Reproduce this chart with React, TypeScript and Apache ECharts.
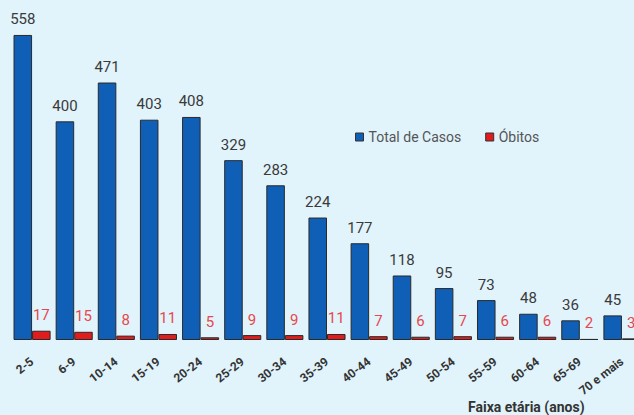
import React, { useEffect, useRef } from "react";
import * as echarts from "echarts";

const categories = ["2-5", "6-9", "10-14", "15-19", "20-24", "25-29", "30-34", "35-39", "40-44", "45-49", "50-54", "55-59", "60-64", "65-69", "70 e mais"];
const totalCasos = [558, 400, 471, 403, 408, 329, 283, 224, 177, 118, 95, 73, 48, 36, 45];
const obitos = [17, 15, 8, 11, 5, 9, 9, 11, 7, 6, 7, 6, 6, 2, 3];

export default function App() {
  const ref = useRef<HTMLDivElement>(null);
  useEffect(() => {
    if (!ref.current) return;
    const chart = echarts.init(ref.current, null, { renderer: "svg" });
    chart.setOption({
      animation: false,
      backgroundColor: "#e1f3fb",
      legend: {
        left: 350,
        top: 125,
        itemWidth: 8,
        itemHeight: 8,
        itemGap: 24,
        icon: "rect",
        textStyle: { fontFamily: "Roboto", fontSize: 14, color: "#555" },
        data: [
          { name: "Total de Casos", itemStyle: { borderColor: "#333", borderWidth: 1 } },
          { name: "Óbitos", itemStyle: { borderColor: "#333", borderWidth: 1 } },
        ],
      },
      grid: { left: 11, right: 3, top: 12, bottom: 75, containLabel: false },
      xAxis: {
        type: "category",
        data: categories,
        axisLine: { show: false },
        axisTick: { show: false },
        axisLabel: {
          rotate: 38,
          interval: 0,
          margin: 20,
          fontFamily: "Roboto",
          fontWeight: "bold",
          fontSize: 12,
          color: "#333",
        },
      },
      yAxis: {
        type: "value",
        min: 0,
        max: 600,
        show: false,
        splitLine: { show: false },
      },
      series: [
        {
          name: "Total de Casos",
          type: "bar",
          data: totalCasos,
          barGap: "0%",
          barCategoryGap: "12%",
          itemStyle: { color: "#0f5fb6", borderColor: "#2a2a2a", borderWidth: 1 },
          label: {
            show: true,
            position: "top",
            distance: 8,
            fontFamily: "Roboto",
            fontSize: 15,
            color: "#3a3a3a",
          },
        },
        {
          name: "Óbitos",
          type: "bar",
          data: obitos,
          itemStyle: { color: "#e01c1c", borderColor: "#2a2a2a", borderWidth: 1 },
          label: {
            show: true,
            position: "top",
            distance: 8,
            fontFamily: "Roboto",
            fontSize: 15,
            color: "#e8474d",
          },
        },
      ],
      graphic: [
        {
          type: "text",
          left: 468,
          top: 400,
          style: {
            text: "Faixa etária (anos)",
            fontFamily: "Roboto",
            fontWeight: "bold",
            fontSize: 14,
            fill: "#333",
          },
        },
      ],
    });
    return () => chart.dispose();
  }, []);
  return (
    <div
      style={{ position: "absolute", left: 0, top: 0, width: 634, height: 415, overflow: "hidden" }}
    >
      <div ref={ref} style={{ width: 646, height: 415 }} />
    </div>
  );
}
